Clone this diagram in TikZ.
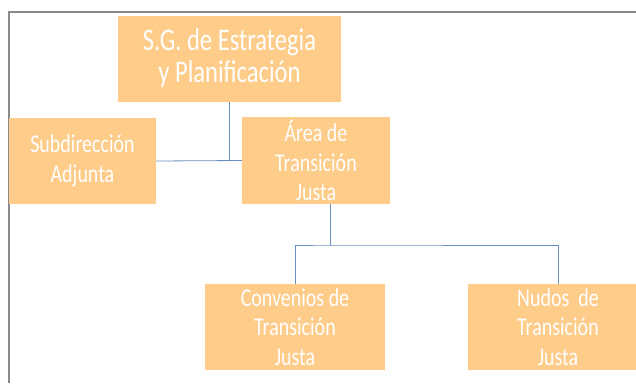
\documentclass[tikz,border=0pt]{standalone}
\usepackage{fontspec}
\setmainfont{Carlito}
\newfontfamily\boxfont[FakeStretch=0.78]{Carlito}
\definecolor{boxfill}{HTML}{FFCC8A}
\definecolor{linkblue}{HTML}{6A8FBF}
\definecolor{framegray}{HTML}{8A8A8A}
\tikzset{
  orgbox/.style={fill=boxfill, text=white, align=center, inner sep=0pt,
    minimum width=#1, minimum height=86pt, font=\boxfont\fontsize{25.6}{29.5}\selectfont},
  orgbox/.default=180pt,
  link/.style={draw=linkblue, line width=0.8pt}
}
\begin{document}
\begin{tikzpicture}[x=1pt, y=-1pt]
    \useasboundingbox (0, 0) rectangle (636, 383);
    \draw[framegray, line width=1.5pt] (9, 383) -- (9, 12) -- (636, 12);
    \node[orgbox=223pt, minimum height=86pt, font=\boxfont\fontsize{31.5}{32}\selectfont] (sg) at (229.5, 58.5) {S.G. de Estrategia\\y Planificaci\'on};
    \node[orgbox=147pt] (sub) at (82.5, 161) {Subdirecci\'on\\Adjunta};
    \node[orgbox=148pt, minimum height=87pt] (area) at (316, 160.5) {\'Area de\\Transici\'on\\Justa};
    \node[orgbox] (conv) at (295, 327) {Convenios de\\Transici\'on\\Justa};
    \node[orgbox] (nudos) at (558, 327) {Nudos\ \ de\\Transici\'on\\Justa};
    \coordinate (bus) at (330, 245);
    \draw[link] (sub.east) -- (area.west);
    \draw[link] (sg.south) -- (sg.south |- sub.east);
    \draw[link] (area.south -| bus) -- (bus);
    \draw[link] (conv.north) |- (bus) -| (nudos.north);
\end{tikzpicture}
\end{document}
